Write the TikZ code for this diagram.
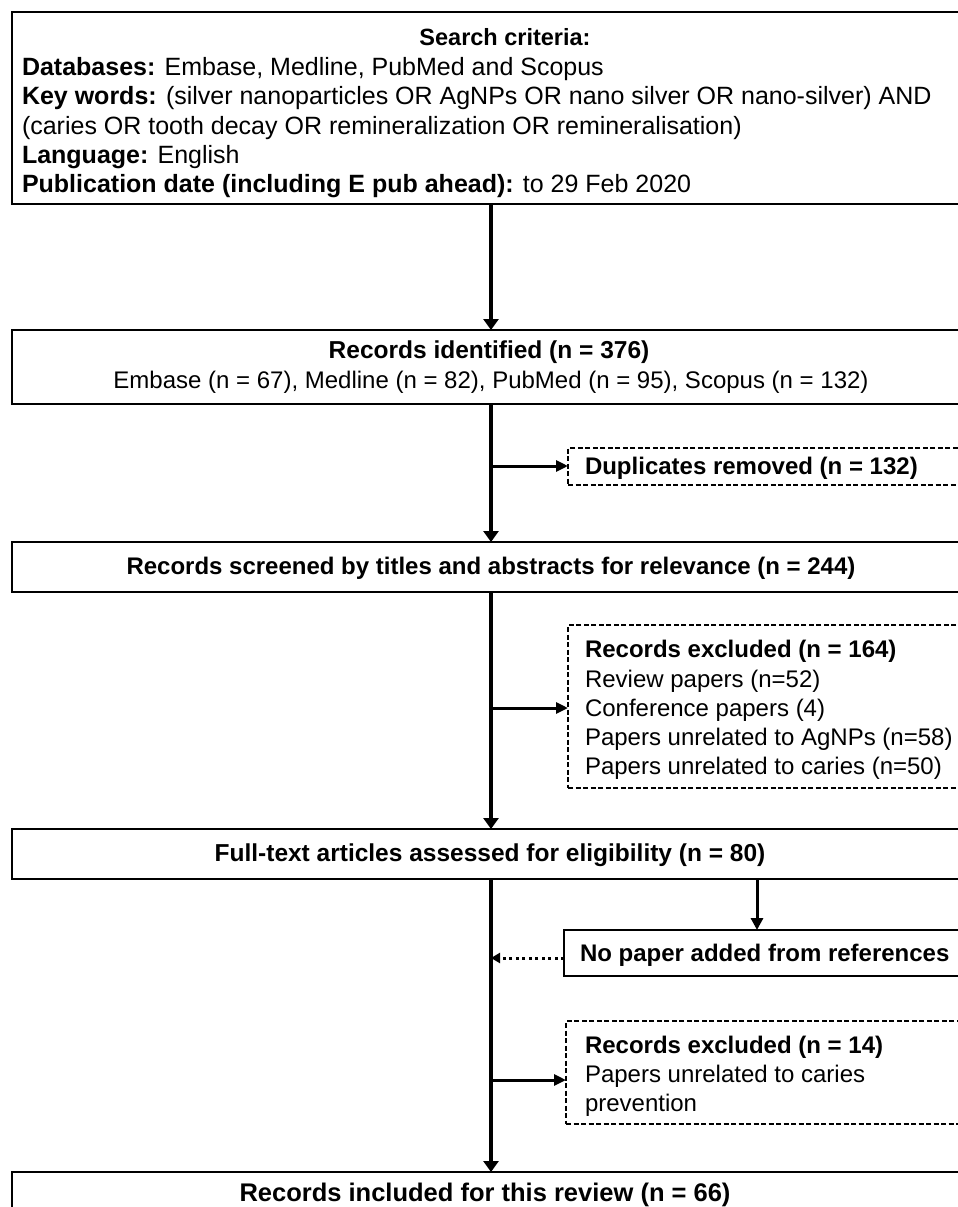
\documentclass[tikz,border=0pt]{standalone}
\usepackage{fontspec}
\setmainfont{Liberation Sans}
\usetikzlibrary{arrows.meta}
\newcommand{\fsA}{\fontsize{24}{29.5}\selectfont}
\newcommand{\fsB}{\fontsize{25.5}{29.5}\selectfont}
\newcommand{\fsT}{\fontsize{25}{29.5}\selectfont}
\begin{document}
\begin{tikzpicture}[x=1pt,y=-1pt,
  every node/.style={font=\fsA, inner sep=0pt, outer sep=0pt},
  mainbox/.style={draw, line width=2pt, minimum width=958pt},
  dbox/.style={draw, line width=1.3pt, dash pattern=on 5pt off 2.5pt, anchor=north west, minimum width=420pt},
  sbox/.style={draw, line width=2pt, anchor=north west, minimum width=420pt},
  txt/.style={anchor=base west},
  btxt/.style={anchor=base west, font=\fsA\bfseries},
  ctxt/.style={anchor=base},
  cbtxt/.style={anchor=base, font=\fsA\bfseries},
  arr/.style={line width=4pt, -{Triangle[length=11pt,width=15pt]}},
  harr/.style={line width=3pt, -{Triangle[length=12pt,width=11pt]}},
  dotarr/.style={line width=3pt, dash pattern=on 3pt off 3.5pt, -{Triangle[length=9pt,width=10pt]}}
]
\useasboundingbox (0,0) rectangle (958,1207);
\clip (0,0) rectangle (958,1207);

% top box
\node[mainbox, minimum height=192pt] (top) at (491,108) {};
\node[cbtxt, font=\fontsize{23.5}{29.5}\selectfont\bfseries] (crit) at (505,45.5) {Search criteria:};
\node[txt, font=\fsT] (l1) at (22,75.5) {\textbf{Databases:} Embase, Medline, PubMed and Scopus};
\node[txt, font=\fsT] (l2) at (22,104.5) {\textbf{Key words:} (silver nanoparticles OR AgNPs OR nano silver OR nano-silver) AND};
\node[txt, font=\fsT] (l3) at (22,134) {(caries OR tooth decay OR remineralization OR remineralisation)};
\node[txt, font=\fsT] (l4) at (22,163.5) {\textbf{Language:} English};
\node[txt, font=\fsT] (l5) at (22,192.5) {\textbf{Publication date (including E pub ahead):} to 29 Feb 2020};

% records identified
\node[mainbox, minimum height=74pt] (ident) at (491,367) {};
\node[cbtxt, font=\fontsize{24.5}{29.5}\selectfont\bfseries] (identa) at (489,358.5) {Records identified (n = 376)};
\node[ctxt] (identb) at (491,388.5) {Embase (n = 67), Medline (n = 82), PubMed (n = 95), Scopus (n = 132)};

% duplicates
\node[dbox, minimum height=37pt] (dup) at (568,448) {};
\node[btxt] (dupt) at (585,474.5) {Duplicates removed (n = 132)};

% screened
\node[mainbox, minimum height=50pt] (screen) at (491,567) {};
\node[cbtxt] (screent) at (491,574.5) {Records screened by titles and abstracts for relevance (n = 244)};

% excluded 164
\node[dbox, minimum height=163pt] (ex1) at (568,625) {};
\node[btxt] (ex1a) at (585,657.5) {Records excluded (n = 164)};
\node[txt] (ex1b) at (585,687) {Review papers (n=52)};
\node[txt] (ex1c) at (585,716.5) {Conference papers (4)};
\node[txt] (ex1d) at (585,745.5) {Papers unrelated to AgNPs (n=58)};
\node[txt] (ex1e) at (585,774.5) {Papers unrelated to caries (n=50)};

% full text
\node[mainbox, minimum height=50pt] (full) at (491,854) {};
\node[cbtxt, font=\fontsize{24.5}{29.5}\selectfont\bfseries] (fullt) at (490,861.5) {Full-text articles assessed for eligibility (n = 80)};

% no paper added
\node[sbox, minimum height=46pt] (nop) at (564,930) {};
\node[btxt] (nopt) at (580,961) {No paper added from references};

% excluded 14
\node[dbox, minimum height=103pt] (ex2) at (566,1021) {};
\node[btxt] (ex2a) at (585,1053.5) {Records excluded (n = 14)};
\node[txt] (ex2b) at (585,1082.5) {Papers unrelated to caries};
\node[txt] (ex2c) at (585,1111.5) {prevention};

% included
\node[mainbox, minimum height=70pt] (incl) at (491,1207) {};
\node[cbtxt, font=\fsB\bfseries] (inclt) at (485,1201.5) {Records included for this review (n = 66)};

% connectors
\coordinate (j1) at (491,466);
\coordinate (j2) at (491,708);
\coordinate (j3) at (491,958);
\coordinate (j4) at (491,1080);
\coordinate (np) at (757,930);

\draw[arr] (top.south) -- (ident.north);
\draw[arr] (ident.south) -- (screen.north);
\draw[arr] (screen.south) -- (full.north);
\draw[arr] (full.south) -- (incl.north);
\draw[harr] (j1) -- (j1 -| dup.west);
\draw[harr] (j2) -- (j2 -| ex1.west);
\draw[harr] (j4) -- (j4 -| ex2.west);
\draw[arr, line width=3pt, -{Triangle[length=12pt,width=12pt]}] (np |- full.south) -- (np |- nop.north);
\draw[dotarr] (j3 -| nop.west) -- (j3);
\end{tikzpicture}
\end{document}
